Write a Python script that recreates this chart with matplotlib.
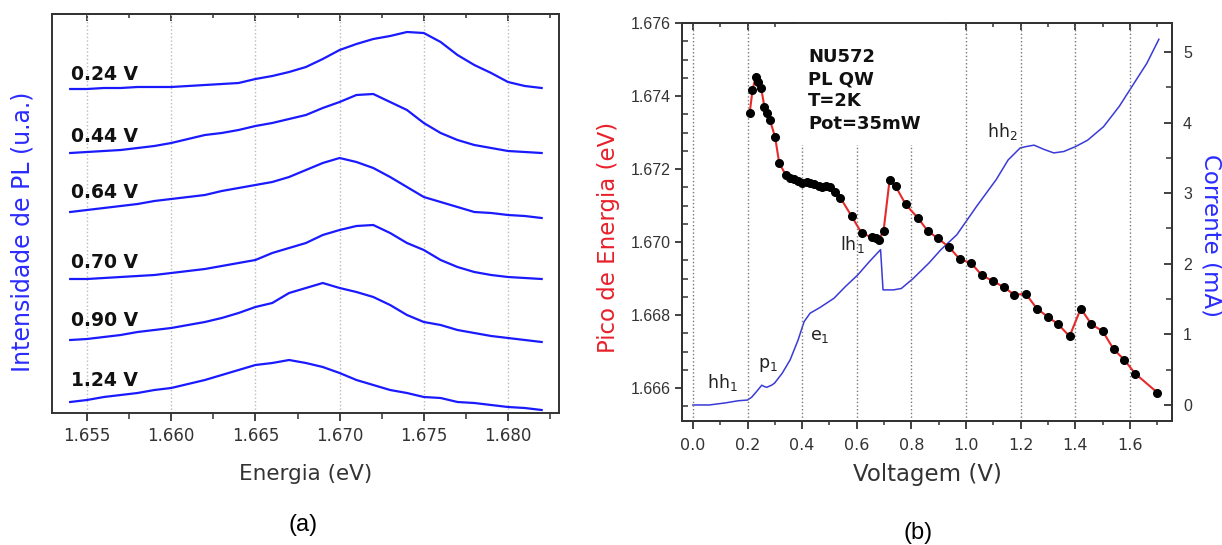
import numpy as np
import matplotlib.pyplot as plt
from matplotlib.ticker import MultipleLocator, FormatStrFormatter
from matplotlib.patches import Rectangle

# ---------------- (a) PL spectra at several bias voltages ----------------
energy = [1.654, 1.655, 1.656, 1.657, 1.658, 1.659, 1.660, 1.661, 1.662, 1.663,
          1.664, 1.665, 1.666, 1.667, 1.668, 1.669, 1.670, 1.671, 1.672, 1.673,
          1.674, 1.675, 1.676, 1.677, 1.678, 1.679, 1.680, 1.681, 1.682]

pl_024 = [0, 0, 1, 1, 2, 2, 2, 3, 4, 5, 6, 10, 13, 17, 22, 30, 39, 45, 50, 53,
          57, 56, 47, 34, 24, 16, 7, 3, 1]
pl_044 = [1, 2, 3, 4, 6, 8, 11, 15, 19, 21, 24, 28, 31, 35, 39, 46, 52, 59, 60, 52,
          44, 31, 21, 14, 9, 6, 3, 2, 1]
pl_064 = [6, 8, 10, 12, 14, 17, 19, 21, 23, 27, 30, 33, 36, 41, 48, 55, 60, 56, 50, 41,
          31, 21, 16, 11, 6, 5, 3, 2, 0]
pl_070 = [1, 1, 2, 3, 4, 5, 7, 9, 11, 14, 17, 20, 27, 32, 37, 45, 50, 54, 55, 47,
          37, 30, 20, 13, 8, 5, 3, 2, 1]
pl_090 = [2, 3, 5, 7, 10, 12, 14, 17, 20, 24, 29, 35, 39, 49, 54, 59, 54, 50, 45, 37,
          27, 20, 17, 12, 9, 6, 4, 2, 0]
pl_124 = [8, 10, 13, 15, 17, 20, 22, 26, 30, 35, 40, 45, 47, 50, 47, 43, 37, 30, 25, 20,
          17, 13, 12, 8, 7, 5, 3, 2, 0]

spectra = [pl_024, pl_044, pl_064, pl_070, pl_090, pl_124]
bias_labels = ['0.24 V', '0.44 V', '0.64 V', '0.70 V', '0.90 V', '1.24 V']
offsets = [324, 259, 195, 133, 71, 3]

# ---------------- (b) peak energy and current vs voltage ----------------
v_peak = [0.208, 0.218, 0.230, 0.240, 0.250, 0.262, 0.272, 0.282, 0.301, 0.316,
          0.340, 0.355, 0.369, 0.384, 0.398, 0.416, 0.430, 0.445, 0.460, 0.474,
          0.489, 0.503, 0.521, 0.540, 0.581, 0.618, 0.657, 0.672, 0.681, 0.698,
          0.720, 0.742, 0.779, 0.825, 0.859, 0.897, 0.937, 0.977, 1.018, 1.058,
          1.099, 1.140, 1.177, 1.218, 1.259, 1.300, 1.337, 1.379, 1.420, 1.459,
          1.500, 1.540, 1.580, 1.619, 1.700]
e_peak = [1.67354, 1.67416, 1.67453, 1.67439, 1.67421, 1.67369, 1.67353, 1.67334, 1.67287, 1.67216,
          1.67184, 1.67176, 1.67172, 1.67168, 1.67162, 1.67165, 1.67162, 1.67159, 1.67153, 1.67152,
          1.67153, 1.67152, 1.67138, 1.67121, 1.67071, 1.67024, 1.67013, 1.67010, 1.67007, 1.67031,
          1.67170, 1.67153, 1.67103, 1.67065, 1.67031, 1.67010, 1.66987, 1.66953, 1.66943, 1.66909,
          1.66893, 1.66876, 1.66855, 1.66859, 1.66818, 1.66795, 1.66775, 1.66742, 1.66818, 1.66775,
          1.66756, 1.66707, 1.66677, 1.66640, 1.66588]

v_cur = [0.0, 0.06, 0.12, 0.166, 0.2, 0.215, 0.233, 0.252, 0.262, 0.27,
         0.288, 0.299, 0.327, 0.356, 0.385, 0.407, 0.429, 0.465, 0.516, 0.559,
         0.603, 0.646, 0.687, 0.696, 0.734, 0.763, 0.806, 0.864, 0.908, 0.966,
         1.038, 1.11, 1.154, 1.198, 1.22, 1.249, 1.285, 1.321, 1.358, 1.401,
         1.445, 1.503, 1.561, 1.604, 1.662, 1.706]
i_cur = [0.0, 0.0, 0.03, 0.06, 0.07, 0.11, 0.19, 0.28, 0.26, 0.25,
         0.28, 0.31, 0.45, 0.64, 0.92, 1.18, 1.30, 1.38, 1.51, 1.68,
         1.84, 2.03, 2.20, 1.63, 1.63, 1.65, 1.79, 2.01, 2.20, 2.41,
         2.81, 3.19, 3.47, 3.64, 3.66, 3.68, 3.62, 3.57, 3.59, 3.66,
         3.75, 3.94, 4.23, 4.49, 4.84, 5.18]

# transition labels on the current curve: text, voltage, current
transitions = [('hh$_1$', 0.051, 0.24), ('p$_1$', 0.238, 0.52), ('e$_1$', 0.428, 0.92),
               ('lh$_1$', 0.537, 2.20), ('hh$_2$', 1.075, 3.80)]

SPINE = '#333333'
TXT = '#333333'
BLUE = '#1a1aff'

fig = plt.figure(figsize=(12.22, 5.45), dpi=100)
W, H = 1222, 545
ax1 = fig.add_axes([52 / W, 1 - 413 / H, 507 / W, 399 / H])
ax2 = fig.add_axes([682 / W, 1 - 421 / H, 490 / W, 398 / H])

# ---- panel (a) ----
label_dy = [15, 17, 25, 18, 22, 30]
for spec, off, lab, dy in zip(spectra, offsets, bias_labels, label_dy):
    ax1.plot(energy, np.array(spec) + off, color=BLUE, lw=1.6, zorder=3)
    ax1.text(1.65405, off + dy, lab, fontsize=13.5, fontweight='bold',
             va='center', ha='left', color='#111111')

ax1.set_xlim(1.65292, 1.68303)
ax1.set_ylim(0, 399)
ax1.set_yticks([])
ax1.xaxis.set_major_locator(MultipleLocator(0.005))
ax1.xaxis.set_minor_locator(MultipleLocator(0.0025))
ax1.xaxis.set_major_formatter(FormatStrFormatter('%.3f'))
ax1.tick_params(axis='x', which='major', direction='out', length=6, width=1.3,
                color=SPINE, labelsize=12, labelcolor=TXT, pad=4)
ax1.tick_params(axis='x', which='minor', direction='out', length=4, width=1.1, color=SPINE)
ax1.grid(axis='x', which='major', ls=':', color='#bbbbbb', lw=1.0)
top1 = ax1.secondary_xaxis('top')
top1.xaxis.set_major_locator(MultipleLocator(0.005))
top1.xaxis.set_minor_locator(MultipleLocator(0.0025))
top1.tick_params(which='major', direction='in', length=5, width=1.3, color=SPINE, labeltop=False)
top1.tick_params(which='minor', direction='in', length=3, width=1.1, color=SPINE)
for ax in (ax1, top1):
    for s in ax.spines.values():
        s.set_color(SPINE)
        s.set_linewidth(1.4)
ax1.set_xlabel('Energia (eV)', fontsize=15.5, color=TXT, va='center')
ax1.xaxis.set_label_coords(0.5, -61 / 399)
ax1.set_ylabel('Intensidade de PL (u.a.)', fontsize=17, color='#2b2bff', va='center')
ax1.yaxis.set_label_coords(-29 / 507, 0.454)

# ---- panel (b) ----
tw = ax2.twinx()
tw.plot(v_cur, i_cur, color='#3a3ad8', lw=1.1)
for txt, v, i in transitions:
    tw.text(v, i, txt, fontsize=12.5, color='#222222', ha='left', va='baseline')

ax2.plot(v_peak, e_peak, color='#e52b2b', lw=1.5, marker='o', ms=5.5,
         mfc='black', mec='black', zorder=4)
ax2.set_zorder(tw.get_zorder() + 1)
ax2.patch.set_visible(False)

ax2.set_xlim(-0.04, 1.754)
ax2.set_ylim(1.6651, 1.676)
tw.set_ylim(-0.227, 5.41)
ax2.xaxis.set_major_locator(MultipleLocator(0.2))
ax2.xaxis.set_minor_locator(MultipleLocator(0.1))
ax2.xaxis.set_major_formatter(FormatStrFormatter('%.1f'))
ax2.yaxis.set_major_locator(MultipleLocator(0.002))
ax2.yaxis.set_minor_locator(MultipleLocator(0.0005))
ax2.yaxis.set_major_formatter(FormatStrFormatter('%.3f'))
tw.yaxis.set_major_locator(MultipleLocator(1))
tw.yaxis.set_minor_locator(MultipleLocator(0.5))

ax2.tick_params(axis='x', which='major', direction='out', length=6, width=1.3,
                color=SPINE, labelsize=11.5, labelcolor=TXT, pad=6)
ax2.tick_params(axis='x', which='minor', direction='out', length=3, width=1.1, color=SPINE)
ax2.tick_params(axis='y', which='major', direction='out', length=5, width=1.3,
                color=SPINE, labelsize=11.5, labelcolor=TXT, pad=3)
ax2.tick_params(axis='y', which='minor', direction='in', length=4, width=1.1, color=SPINE)
tw.tick_params(axis='y', which='major', direction='in', length=6, width=1.3,
               color=SPINE, labelsize=11.5, labelcolor=TXT, pad=8)
tw.tick_params(axis='y', which='minor', direction='in', length=4, width=1.1, color=SPINE)
for lab in ax2.get_yticklabels() + tw.get_yticklabels():
    lab.set_fontfamily('Liberation Sans')

top2 = ax2.secondary_xaxis('top')
top2.xaxis.set_major_locator(MultipleLocator(0.2))
top2.xaxis.set_minor_locator(MultipleLocator(0.1))
top2.tick_params(which='major', direction='in', length=5, width=1.3, color=SPINE, labeltop=False)
top2.tick_params(which='minor', direction='in', length=3, width=1.1, color=SPINE)

ax2.grid(axis='x', which='major', ls=':', color='#777777', lw=1.0)
ax2.add_patch(Rectangle((0.23, 0.693), 0.317, 0.307, transform=ax2.transAxes,
                        fc='white', ec='none', zorder=1.6))
ax2.text(0.257, 0.937, 'NU572\nPL QW\nT=2K\nPot=35mW', transform=ax2.transAxes,
         fontsize=13, fontweight='bold', va='top', ha='left', linespacing=1.3,
         color='#111111', zorder=5)

for ax in (ax2, tw, top2):
    for s in ax.spines.values():
        s.set_color(SPINE)
        s.set_linewidth(1.4)

ax2.set_xlabel('Voltagem (V)', fontsize=16.5, color=TXT, va='center')
ax2.xaxis.set_label_coords(0.5, -53 / 398)
ax2.set_ylabel('Pico de Energia (eV)', fontsize=16.5, color='#e8202a', va='center')
ax2.yaxis.set_label_coords(-74 / 490, 0.46)
tw.set_ylabel('Corrente (mA)', fontsize=16.5, color='#2b2bff', rotation=270, va='center')
tw.yaxis.set_label_coords(1 + 39 / 490, 0.465)

fig.text(303 / W, 1 - 525 / H, '(a)', fontsize=17, family='Liberation Sans',
         ha='center', va='center')
fig.text(918 / W, 1 - 533 / H, '(b)', fontsize=17, family='Liberation Sans',
         ha='center', va='center')

fig.savefig('out.png', dpi=100, facecolor='white')
